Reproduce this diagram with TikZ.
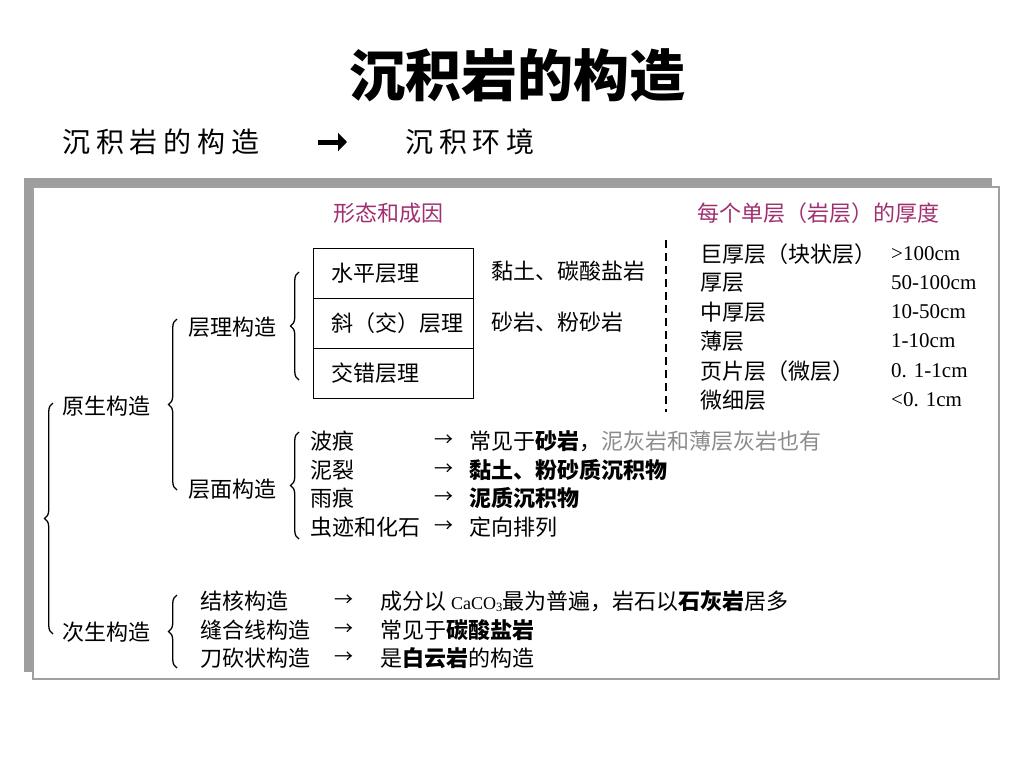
\documentclass[tikz,border=0pt]{standalone}
\usepackage{fontspec}
\setmainfont{Noto Sans CJK SC}
\newfontfamily\cjkspaced[LetterSpace=21]{Noto Sans CJK SC}
\newfontfamily\serifl{Liberation Serif}
\usetikzlibrary{decorations.pathreplacing,arrows.meta}
\definecolor{hdrc}{RGB}{160,48,112}
\definecolor{grayt}{RGB}{140,140,140}
\definecolor{shadowc}{RGB}{158,158,158}
\definecolor{boxc}{RGB}{160,160,160}
\tikzset{
  txt/.style={anchor=west, inner sep=0pt, font=\fontsize{22}{22}\selectfont},
  hdr/.style={txt, text=hdrc},
  num/.style={anchor=west, inner sep=0pt, font=\serifl\fontsize{21}{21}\selectfont},
  brc/.style={decorate, decoration={brace, amplitude=8.5pt, aspect=0.5}, line width=1.3pt},
  arr/.style={anchor=west, inner sep=0pt, font=\fontsize{19}{19}\selectfont},
  cell/.style={draw, line width=0.9pt, minimum width=160pt, minimum height=50pt,
    text width=124pt, align=left, inner xsep=18pt, inner ysep=0pt,
    font=\fontsize{22}{22}\selectfont},
  subt/.style={anchor=west, inner sep=0pt, font=\cjkspaced\fontsize{28}{28}\selectfont},
}
\begin{document}
\begin{tikzpicture}[x=1pt,y=-1pt]
\fill[white] (0,0) rectangle (1024,768);
\useasboundingbox (0,0) rectangle (1024,768);

% title and subtitle
\node[inner sep=0pt, font=\bfseries\fontsize{56}{56}\selectfont] (title) at (517,75) {沉积岩的构造};
\node[subt] (sub1) at (62,142) {沉积岩的构造};
\node[subt] (sub2) at (405,142) {沉积环境};
\draw[-{Triangle[length=9pt,width=18pt]}, line width=5pt, shorten <=58pt, shorten >=58pt] (sub1.east) -- (sub2.west);

% frame
\fill[shadowc] (24,178) rectangle (992,672);
\draw[boxc, fill=white, line width=1.2pt] (33,187) rectangle (999,679);

% headers
\node[hdr] (h1) at (333,213) {形态和成因};
\node[hdr] (h2) at (697,213) {每个单层（岩层）的厚度};

% table
\node[cell] (c1) at (393,273) {水平层理};
\node[cell] (c2) at (393,323) {斜（交）层理};
\node[cell] (c3) at (393,373) {交错层理};
\node[txt] (r1) at (491,271) {黏土、碳酸盐岩};
\node[txt] (r2) at (491,322) {砂岩、粉砂岩};

% dashed separator
\draw[dash pattern=on 8pt off 5pt, line width=2pt] (666,240) -- (666,412);

% thickness list
\node[txt] (t1) at (700,254) {巨厚层（块状层）};
\node[txt] (t2) at (700,283) {厚层};
\node[txt] (t3) at (700,312) {中厚层};
\node[txt] (t4) at (700,341) {薄层};
\node[txt] (t5) at (700,371) {页片层（微层）};
\node[txt] (t6) at (700,400) {微细层};
\node[num] (v1) at (891,254) {>100cm};
\node[num] (v2) at (891,283) {50-100cm};
\node[num] (v3) at (891,312) {10-50cm};
\node[num] (v4) at (891,341) {1-10cm};
\node[num] (v5) at (891,371) {0. 1-1cm};
\node[num] (v6) at (891,400) {<0. 1cm};

% left hierarchy
\node[txt] (yuan) at (62,406) {原生构造};
\node[txt] (cengli) at (188,327) {层理构造};
\node[txt] (cengmian) at (188,489) {层面构造};
\node[txt] (ci) at (62,632) {次生构造};

\draw[brc] (53,634) -- (53,403);
\draw[brc] (177,490) -- (177,319);
\draw[brc] (299,380) -- (299,272);
\draw[brc] (299,539) -- (299,432);
\draw[brc] (177,668) -- (177,595);

% bedding surface structures
\node[txt] (w1) at (310,441) {波痕};
\node[txt] (w2) at (310,470) {泥裂};
\node[txt] (w3) at (310,498) {雨痕};
\node[txt] (w4) at (310,527) {虫迹和化石};
\node[arr] (a1) at (434,441) {→};
\node[arr] (a2) at (434,470) {→};
\node[arr] (a3) at (434,498) {→};
\node[arr] (a4) at (434,527) {→};
\node[txt] (d1) at (469,441) {常见于\textbf{砂岩}，\textcolor{grayt}{泥灰岩和薄层灰岩也有}};
\node[txt] (d2) at (469,470) {\textbf{黏土、粉砂质沉积物}};
\node[txt] (d3) at (469,498) {\textbf{泥质沉积物}};
\node[txt] (d4) at (469,527) {定向排列};

% secondary structures
\node[txt] (s1) at (200,601) {结核构造};
\node[txt] (s2) at (200,630) {缝合线构造};
\node[txt] (s3) at (200,658) {刀砍状构造};
\node[arr] (b1) at (334,601) {→};
\node[arr] (b2) at (334,630) {→};
\node[arr] (b3) at (334,658) {→};
\node[txt] (e1) at (380,601) {成分以 {\serifl\fontsize{18}{18}\selectfont CaCO\textsubscript{3}}最为普遍，岩石以\textbf{石灰岩}居多};
\node[txt] (e2) at (380,630) {常见于\textbf{碳酸盐岩}};
\node[txt] (e3) at (380,658) {是\textbf{白云岩}的构造};
\end{tikzpicture}
\end{document}
